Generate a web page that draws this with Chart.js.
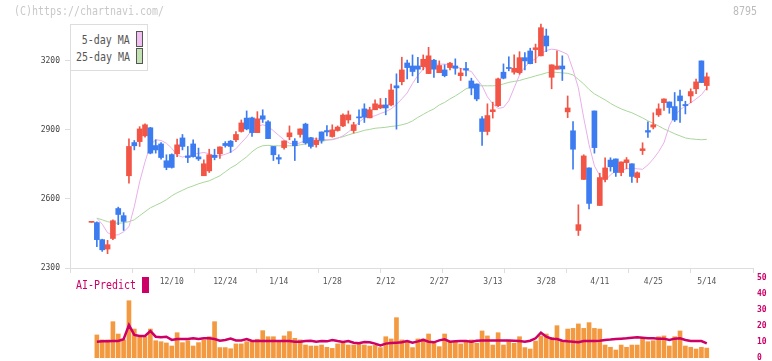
<!DOCTYPE html>
<html>
<head>
<meta charset="utf-8">
<script src="https://cdn.jsdelivr.net/npm/chart.js@4.4.1/dist/chart.umd.min.js"></script>
<style>
body{margin:0;background:#fff;}
#wrap{position:relative;width:772px;height:361px;overflow:hidden;font-family:"DejaVu Sans Mono",monospace;}
canvas{position:absolute;left:0;top:0;}
.txt{position:absolute;white-space:nowrap;font-size:12px;line-height:12px;}
.sw{position:absolute;box-sizing:border-box;}
</style>
</head>
<body>
<div id="wrap">
<canvas id="mainChart" width="772" height="361"></canvas>
<canvas id="subChart" width="772" height="361"></canvas>
<div class="txt" style="left:14px;top:5px;color:#c8c8c8;transform:scaleX(0.83);transform-origin:left;">(C)https://chartnavi.com/</div>
<div class="txt" style="right:15px;top:5px;color:#bbb;transform:scaleX(0.83);transform-origin:right;">8795</div>
<div class="sw" style="left:70px;top:24px;width:78px;height:47px;border:1px solid #ddd;background:#fff;"></div>
<div class="txt" style="right:642px;top:34px;color:#555;transform:scaleX(0.83);transform-origin:right;">5-day MA</div>
<div class="txt" style="right:642px;top:51px;color:#555;transform:scaleX(0.83);transform-origin:right;">25-day MA</div>
<div class="sw" style="left:136px;top:31px;width:7px;height:16px;border:1px solid #555;background:#f0c0f0;"></div>
<div class="sw" style="left:136px;top:48px;width:7px;height:16px;border:1px solid #555;background:#c2e2b4;"></div>
<div class="txt" style="left:76px;top:279px;color:#cc0066;transform:scaleX(0.83);transform-origin:left;">AI-Predict</div>
<div class="sw" style="left:142px;top:277px;width:7px;height:16px;background:#cc0066;"></div>
</div>
<script>
const opens = [2498,2497,2423,2382,2428,2558,2527,2700,2844,2848, 2873,2908,2831,2838,2765,2792,2795,2864,2786,2838,
  2782,2700,2721,2789,2795,2840,2850,2856,2892,2950, 2951,2887,2960,2934,2827,2779,2822,2869,2850,2879,
  2924,2865,2835,2890,2896,2870,2896,2916,2942,2896, 2955,2990,2951,2986,2994,3007,3007,3090,3108,3189,
  3176,3176,3173,3143,3201,3147,3159,3169,3176,3134, 3165,3111,3098,2947,2892,2978,3004,3149,3169,3149,
  3147,3212,3241,3247,3220,3306,3127,3162,3176,2977, 2895,2463,2684,2734,2981,2571,2684,2768,2773,2714,
  2757,2752,2692,2809,2896,2911,2964,3017,3020,3000, 3046,3009,3046,3077,3198,3091];
const highs = [2500,2500,2425,2420,2509,2564,2540,2860,2853,2913, 2925,2910,2856,2844,2791,2795,2859,2879,2827,2856,
  2820,2769,2815,2815,2825,2848,2853,2892,2942,2981, 2954,2978,2986,2939,2827,2791,2851,2916,2861,2903,
  2928,2867,2864,2890,2918,2921,2916,2968,2981,2932, 2986,3012,2997,3029,3035,3036,3098,3142,3214,3202,
  3224,3214,3224,3257,3205,3198,3181,3192,3207,3166, 3192,3123,3098,2957,3012,3019,3123,3185,3216,3224,
  3238,3234,3253,3271,3358,3336,3181,3242,3220,3046, 2935,2574,2791,2734,2981,2711,2778,2778,2773,2760,
  2779,2752,2717,2843,2934,2973,3012,3033,3020,3061, 3072,3023,3077,3119,3198,3146];
const lows = [2498,2393,2372,2362,2423,2488,2463,2668,2812,2827, 2867,2795,2798,2772,2726,2733,2783,2812,2757,2781,
  2766,2700,2714,2769,2775,2824,2801,2848,2889,2899, 2870,2887,2931,2861,2766,2752,2815,2856,2766,2867,
  2837,2820,2824,2841,2873,2867,2893,2913,2928,2885, 2922,2931,2951,2986,2991,2964,3003,2902,3094,3120,
  3133,3104,3159,3143,3126,3147,3129,3159,3140,3113, 3133,3051,3025,2831,2877,2950,3000,3120,3155,3140,
  3140,3159,3185,3190,3220,3238,3077,3162,3113,2952, 2729,2441,2684,2556,2798,2571,2673,2720,2697,2700,
  2731,2671,2671,2792,2866,2903,2957,2983,2971,2935, 2931,2968,3017,3056,3104,3072];
const closes = [2500,2423,2379,2401,2505,2532,2502,2827,2830,2903, 2921,2798,2812,2779,2736,2736,2834,2827,2779,2783,
  2773,2752,2791,2779,2825,2831,2827,2879,2929,2903, 2887,2947,2945,2861,2791,2772,2851,2886,2830,2903,
  2843,2827,2854,2853,2890,2899,2911,2963,2964,2921, 2951,2954,2986,3012,3007,2994,3072,3081,3159,3169,
  3152,3162,3205,3220,3162,3178,3134,3188,3166,3146, 3158,3080,3033,2892,2961,2986,3120,3123,3165,3166,
  3212,3198,3186,3255,3342,3263,3181,3176,3163,2994, 2815,2488,2786,2580,2822,2692,2734,2739,2714,2760,
  2769,2697,2713,2817,2889,2921,2990,3033,2996,2942, 3025,3004,3065,3107,3104,3129];
const ma5 = [null,2516,2490,2453,2442,2444,2457,2479,2566,2674, 2760,2834,2856,2853,2841,2819,2789,2781,2786,2793,
  2797,2801,2795,2786,2786,2793,2802,2817,2843,2868, 2899,2914,2921,2914,2895,2875,2856,2841,2836,2843,
  2854,2860,2860,2859,2856,2856,2862,2873,2890,2908, 2932,2951,2955,2960,2970,2978,2990,3009,3033,3059,
  3100,3135,3163,3178,3184,3184,3184,3181,3174,3165, 3159,3152,3120,3090,3042,3012,2992,2996,3025,3081,
  3137,3172,3194,3207,3228,3243,3249,3246,3237,3226, 3159,3081,2951,2834,2743,2700,2678,2704,2721,2724,
  2730,2732,2730,2728,2747,2773,2804,2843,2916,2960, 2986,3003,3016,3033,3051,3081];
const ma25 = [null,2516,2509,2501,2496,2494,2496,2501,2509,2527, 2544,2561,2572,2583,2596,2613,2626,2637,2648,2656,
  2665,2672,2678,2689,2700,2717,2734,2747,2765,2782, 2804,2821,2830,2832,2830,2830,2830,2830,2830,2834,
  2838,2843,2845,2848,2854,2858,2864,2869,2877,2884, 2890,2897,2901,2906,2908,2910,2914,2916,2921,2927,
  2938,2953,2966,2979,2990,3007,3018,3033,3046,3061, 3077,3085,3090,3090,3090,3090,3092,3098,3105,3109,
  3113,3120,3126,3133,3139,3146,3150,3148,3146,3144, 3137,3118,3098,3074,3055,3042,3029,3014,3001,2990,
  2981,2973,2962,2951,2938,2927,2916,2903,2893,2882, 2873,2864,2860,2858,2856,2858];
const volume = [null,14.4,11.3,11.3,22.7,15,11.3,35.8,18.1,13.3, 13.3,18.1,10.8,10.2,9.4,7.5,15.8,9.6,10.8,7.5,
  9.6,11.3,13.3,22.7,6.5,6.5,5.8,8.8,8.8,10.2, 10.8,11.7,17.1,13.3,13.3,10.8,13.8,16.5,12.3,11.3,
  8.1,7.5,7.5,8.1,6.7,6.0,8.8,9.2,8.1,8.1, 8.5,8.1,7.5,7.9,6.5,13.3,11.9,25.2,11.3,10.6,
  6.5,11.9,11.9,15,9.2,7.1,15,10.2,10.2,8.8, 10.6,11.3,9.2,16.9,13.8,8.1,15.8,8.1,10.8,9.2,
  13.3,6.5,5.6,10.6,13.8,15,12.9,20.2,10.6,18.1, 18.5,21.3,18.5,22.1,18.5,18.1,8.1,6.7,5,8.1,
  6.7,8.1,8.1,12.9,10.2,10.8,13.3,13.8,7.5,13.3, 16.9,7.5,6.7,5.6,6.7,6.2];
const aiPredict = [null,10.2,10.4,10.4,10.6,10.6,11.7,20.6,14.4,13.8, 13.8,16.9,13.3,12.9,13.3,11.3,11.9,11.9,11.9,12.3,
  11.9,12.3,12.3,11.9,10.8,11.3,12.1,11,11,11.9, 10.6,10.6,10.6,10.6,10.6,10.6,10.6,10.6,10.2,10.2,
  10.6,10.8,10.2,10.6,10.4,11.3,10.6,10,10.6,9.5, 9.2,10,9.8,9,7.8,9,9.4,9.6,9.8,10.6,
  9.6,10.4,11.3,10.2,9.8,11,11.7,10.2,10.4,10.6, 10.6,10.2,10.8,11,11,11,11,11,11,10.8,
  10.6,10.2,10.8,12.3,15.8,13.3,12.1,11.9,10.8,10.4, 10.2,9.8,10.6,10.6,10.6,10.8,11.3,11.5,11.9,12.1,
  12.3,12.7,12.9,12.7,12.3,12.3,12.1,12.1,11.3,12.1, 12.3,11.3,10.6,10.6,10.6,9.2];
const dateLabels = ['12/10','12/24','1/14','1/28','2/12','2/27','3/13','3/28','4/11','4/25','5/14'];
const priceTicks = [2300, 2600, 2900, 3200];

const RED = '#f25546', BLUE = '#3d7cf0', CRIMSON = '#cc0066', ORANGE = '#f3993f';
const FONT = 'DejaVu Sans Mono';

// x range in candle units (first candle at 0)
const xMin = -4.02, xMax = 123.64;
const gridStops = [];
for (let i = 0; i <= 11; i++) gridStops.push(xMin + i * (xMax - xMin) / 11);
const labelPos = dateLabels.map((d, i) => opens.length - 1 - (dateLabels.length - 1 - i) * 10);

const idx = opens.map((_, i) => i);
const candleColor = idx.map(i => closes[i] >= opens[i] ? RED : BLUE);

const mainChart = new Chart(document.getElementById('mainChart'), {
  type: 'bar',
  data: {
    datasets: [
      {
        type: 'line', data: idx.map(i => ({x: i, y: ma25[i]})),
        borderColor: '#a8d69a', borderWidth: 1, pointRadius: 0, tension: 0, order: 4
      },
      {
        type: 'line', data: idx.map(i => ({x: i, y: ma5[i]})),
        borderColor: '#eaaeea', borderWidth: 1, pointRadius: 0, tension: 0, order: 3
      },
      {
        data: idx.map(i => ({x: i, y: [lows[i], highs[i]]})),
        backgroundColor: candleColor, barThickness: 1, grouped: false, order: 2, clip: false
      },
      {
        data: idx.map(i => ({x: i, y: [Math.min(opens[i], closes[i]), Math.max(opens[i], closes[i])]})),
        backgroundColor: candleColor, barThickness: 5, minBarLength: 1, grouped: false, order: 1
      }
    ]
  },
  options: {
    responsive: false, animation: false, events: [],
    layout: {padding: {left: 0, right: 19, top: 24, bottom: 68}},
    plugins: {legend: {display: false}, tooltip: {enabled: false}},
    scales: {
      x: {
        type: 'linear', min: xMin, max: xMax, offset: false, weight: 0,
        grid: {drawOnChartArea: false, drawTicks: true, tickLength: 5, color: '#ddd', offset: false},
        border: {color: '#ddd'},
        ticks: {display: false},
        afterBuildTicks: s => { s.ticks = gridStops.map(v => ({value: v})); },
        afterFit: s => { s.height = 5; }
      },
      xl: {
        type: 'linear', position: 'bottom', min: xMin, max: xMax, offset: false, weight: 1,
        grid: {display: false, drawTicks: false, offset: false},
        border: {display: false},
        ticks: {
          autoSkip: false, maxRotation: 0, padding: 4, color: '#555',
          font: {family: FONT, size: 8},
          callback: v => { const j = labelPos.indexOf(v); return j >= 0 ? dateLabels[j] : ''; }
        },
        afterBuildTicks: s => { s.ticks = labelPos.map(v => ({value: v})); },
        afterFit: s => { s.height = 20; }
      },
      y: {
        position: 'left', min: 2300, max: 3358,
        grid: {drawOnChartArea: false, tickLength: 5, color: '#ddd'},
        border: {color: '#ddd'},
        ticks: {padding: 5, color: '#444', font: {family: FONT, size: 8}, callback: v => String(v)},
        afterBuildTicks: s => { s.ticks = priceTicks.map(v => ({value: v})); },
        afterFit: s => { s.width = 70; }
      }
    }
  }
});

const subChart = new Chart(document.getElementById('subChart'), {
  type: 'bar',
  data: {
    datasets: [
      {
        type: 'line', data: idx.map(i => ({x: i, y: aiPredict[i]})),
        borderColor: CRIMSON, borderWidth: 2.5, pointRadius: 0, tension: 0, order: 1
      },
      {
        data: idx.map(i => ({x: i, y: volume[i]})),
        backgroundColor: ORANGE, barThickness: 4, grouped: false, order: 2
      }
    ]
  },
  options: {
    responsive: false, animation: false, events: [],
    layout: {padding: {left: 70, right: 0, top: 278, bottom: 3}},
    plugins: {legend: {display: false}, tooltip: {enabled: false}},
    scales: {
      x: {type: 'linear', display: false, min: xMin, max: xMax, offset: false},
      y: {
        position: 'right', min: 0, max: 50,
        grid: {display: false, drawTicks: false},
        border: {display: false},
        ticks: {stepSize: 10, padding: 4, color: CRIMSON, font: {family: FONT, size: 8, weight: 'bold'}},
        afterFit: s => { s.width = 19; s.paddingTop = 0; s.paddingBottom = 0; }
      }
    }
  }
});
</script>
</body>
</html>
